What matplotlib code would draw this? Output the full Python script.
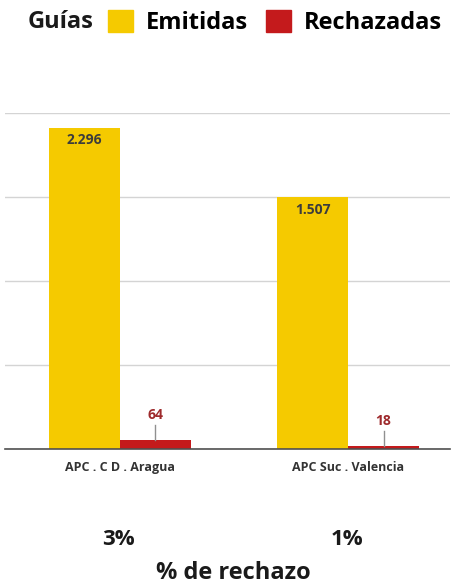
import matplotlib.pyplot as plt
from matplotlib.patches import Patch

plt.rcParams['font.family'] = ['Open Sans', 'DejaVu Sans']

oficinas = ["APC . C D . Aragua", "APC Suc . Valencia"]
emitidas = [2296, 1507]
rechazadas = [64, 18]
# the source draws the 1.507 bar up to the ~1800 grid line; keep that height
emitidas_altura = [2296, 1800]
pct_rechazo = ["3%", "1%"]

amarillo = "#F5CA00"
rojo = "#C41A1C"

fig = plt.figure(figsize=(4.51, 5.85), dpi=100)
ax = fig.add_axes([0.011, 0.2325, 0.987, 0.5744])

x = [0, 1]
w = 0.311
ax.bar([i - w / 2 for i in x], emitidas_altura, w, color=amarillo, zorder=3)
ax.bar([i + w / 2 for i in x], rechazadas, w, color=rojo, zorder=3)

for i, v in enumerate(emitidas):
    ax.text(x[i] - w / 2, emitidas_altura[i] - 40, f"{v:,}".replace(",", "."),
            ha="center", va="top", fontsize=10, fontweight="bold", color="#3C3C3C", zorder=4)

for i, v in enumerate(rechazadas):
    ax.plot([x[i] + w / 2] * 2, [v, v + 110], color="#909090", lw=1, zorder=4)
    ax.text(x[i] + w / 2, v + 130, str(v), ha="center", va="bottom",
            fontsize=10, fontweight="bold", color="#9E2A2C", zorder=4)

ax.set_ylim(0, 2400)
ax.set_xlim(-0.504, 1.447)
ax.set_yticks([0, 600, 1200, 1800, 2400])
ax.yaxis.grid(True, color="#D4D4D4", lw=1)
ax.set_axisbelow(True)
ax.tick_params(left=False, labelleft=False, bottom=False)
ax.set_xticks(x)
ax.set_xticklabels(oficinas, fontsize=9, fontweight="bold", color="#333333")
ax.tick_params(axis="x", pad=5)
for s in ["top", "right", "left"]:
    ax.spines[s].set_visible(False)
ax.spines["bottom"].set_color("#505050")
ax.spines["bottom"].set_linewidth(1.2)
ax.spines["bottom"].set_zorder(5)

for i, p in enumerate(pct_rechazo):
    xf = ax.transData.transform((x[i], 0))[0] / fig.bbox.width
    fig.text(xf - 0.003, 0.077, p, ha="center", va="center", fontsize=16,
             fontweight="bold", color="#1A1A1A")
fig.text(0.517, 0.01, "% de rechazo", ha="center", va="baseline", fontsize=17,
         fontweight="bold", color="#1A1A1A")

fig.text(0.062, 0.962, "Guías", ha="left", va="center", fontsize=17,
         fontweight="bold", color="#1A1A1A")
handles = [Patch(color=amarillo), Patch(color=rojo)]
fig.legend(handles, ["Emitidas", "Rechazadas"], ncol=2, loc="center left",
           bbox_to_anchor=(0.24, 0.962), frameon=False, prop={"size": 17, "weight": "bold"},
           handlelength=1.05, handleheight=1.05, handletextpad=0.55, columnspacing=0.75,
           borderpad=0, borderaxespad=0)

fig.savefig("out.png", dpi=100)
